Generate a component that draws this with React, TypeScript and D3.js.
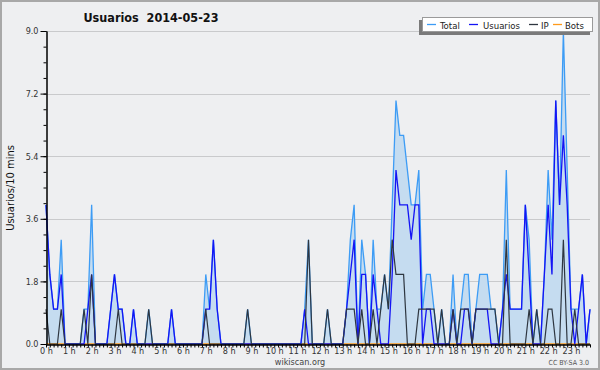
import { useEffect, useRef } from 'react';
import * as d3 from 'd3';

// one value per 10 minutes, 144 slots
const total = [
  4, 2, 1, 1, 3, 0, 0, 0, 0, 0, 1, 1, 4, 0, 0, 0, 0, 1, 2, 1, 1, 0, 0, 1,
  0, 0, 0, 1, 0, 0, 0, 0, 0, 1, 0, 0, 0, 0, 0, 0, 0, 0, 2, 1, 3, 1, 0, 0,
  0, 0, 0, 0, 0, 1, 0, 0, 0, 0, 0, 0, 0, 0, 0, 0, 0, 0, 0, 0, 1, 3, 0, 0,
  0, 0, 1, 0, 0, 0, 0, 1, 3, 4, 0, 3, 2, 0, 3, 1, 1, 2, 1, 4, 7, 6, 6, 5,
  4, 4, 5, 1, 2, 2, 1, 0, 1, 0, 0, 2, 0, 1, 2, 2, 0, 1, 2, 2, 2, 1, 1, 0,
  1, 5, 1, 1, 1, 1, 4, 3, 0, 1, 0, 2, 5, 3, 7, 4, 9, 5, 1, 1, 1, 2, 0, 1,
];
const usuarios = [
  4, 2, 1, 1, 2, 0, 0, 0, 0, 0, 0, 1, 2, 0, 0, 0, 0, 1, 2, 1, 1, 0, 0, 1,
  0, 0, 0, 0, 0, 0, 0, 0, 0, 1, 0, 0, 0, 0, 0, 0, 0, 0, 1, 1, 3, 1, 0, 0,
  0, 0, 0, 0, 0, 0, 0, 0, 0, 0, 0, 0, 0, 0, 0, 0, 0, 0, 0, 0, 1, 0, 0, 0,
  0, 0, 0, 0, 0, 0, 0, 1, 2, 3, 0, 2, 2, 0, 2, 1, 0, 0, 0, 2, 5, 4, 4, 4,
  3, 4, 4, 0, 1, 1, 0, 0, 0, 0, 0, 1, 0, 0, 1, 1, 0, 1, 1, 1, 1, 0, 0, 0,
  1, 2, 1, 1, 1, 1, 4, 2, 0, 0, 0, 2, 4, 2, 7, 4, 6, 4, 1, 0, 1, 2, 0, 1,
];
const ip = [
  1, 0, 0, 0, 1, 0, 0, 0, 0, 0, 1, 0, 2, 0, 0, 0, 0, 0, 0, 1, 0, 0, 0, 0,
  0, 0, 0, 1, 0, 0, 0, 0, 0, 0, 0, 0, 0, 0, 0, 0, 0, 0, 1, 0, 0, 0, 0, 0,
  0, 0, 0, 0, 0, 1, 0, 0, 0, 0, 0, 0, 0, 0, 0, 0, 0, 0, 0, 0, 0, 3, 0, 0,
  0, 0, 1, 0, 0, 0, 0, 1, 1, 1, 0, 1, 0, 0, 1, 0, 1, 2, 1, 3, 2, 2, 2, 0,
  0, 0, 1, 1, 1, 1, 1, 0, 1, 0, 0, 1, 0, 1, 1, 1, 0, 1, 1, 1, 1, 1, 1, 0,
  0, 3, 0, 0, 0, 0, 0, 1, 0, 1, 0, 0, 1, 1, 0, 0, 3, 0, 0, 1, 0, 0, 0, 0,
];
const bots = total.map(() => 0);

const yTicks = [0, 1.8, 3.6, 5.4, 7.2, 9.0];
const hourLabels = d3.range(24).map(h => `${h} h`);

const legendItems = [
  { name: 'Total', color: '#3d9cf5' },
  { name: 'Usuarios', color: '#1414f5' },
  { name: 'IP', color: '#2e3640' },
  { name: 'Bots', color: '#ff9a1a' },
];

const font = '"DejaVu Sans Condensed", "DejaVu Sans", sans-serif';

const App = () => {
  const svgRef = useRef<SVGSVGElement>(null);

  useEffect(() => {
    const w = 600;
    const h = 370;
    const svg = d3.select(svgRef.current);
    svg.selectAll('*').remove();
    svg.attr('width', w).attr('height', h);

    const left = 46, right = 590, top = 31, bottom = 344;
    const x = d3.scaleLinear().domain([0, total.length - 1]).range([left, right]);
    const y = d3.scaleLinear().domain([0, 9]).range([bottom, top]);

    // background + border
    svg.append('rect')
      .attr('x', 1).attr('y', 1).attr('width', w - 2).attr('height', h - 2)
      .attr('fill', '#eeeff1').attr('stroke', '#a8a8a8').attr('stroke-width', 2);

    // grid
    svg.append('g').selectAll('line')
      .data(yTicks.slice(1))
      .enter().append('line')
      .attr('x1', left).attr('x2', right)
      .attr('y1', d => Math.round(y(d)) + 0.5).attr('y2', d => Math.round(y(d)) + 0.5)
      .attr('stroke', '#c9cacc').attr('stroke-width', 1);

    // title
    svg.append('text')
      .attr('x', 151).attr('y', 22)
      .attr('text-anchor', 'middle')
      .style('font-family', font).style('font-weight', 'bold').style('font-size', '12.5px')
      .style('font-stretch', 'condensed')
      .style('white-space', 'pre')
      .attr('fill', '#111')
      .text('Usuarios  2014-05-23');

    // y label
    svg.append('text')
      .attr('transform', 'translate(14,188) rotate(-90)')
      .attr('text-anchor', 'middle')
      .style('font-family', font).style('font-size', '11px').style('font-stretch', 'condensed')
      .attr('fill', '#111')
      .text('Usuarios/10 mins');

    const idx = d3.range(total.length);

    // area under total
    svg.append('path')
      .datum(idx)
      .attr('fill', '#c5dcf0')
      .attr('d', d3.area<number>().x(i => x(i)).y0(y(0)).y1(i => y(total[i])));

    const line = (vals: number[]) => d3.line<number>().x(i => x(i)).y(i => y(vals[i]))(idx);

    svg.append('path').attr('d', line(bots)).attr('fill', 'none')
      .attr('stroke', legendItems[3].color).attr('stroke-width', 1.3);
    svg.append('path').attr('d', line(total)).attr('fill', 'none')
      .attr('stroke', legendItems[0].color).attr('stroke-width', 1.3);
    svg.append('path').attr('d', line(usuarios)).attr('fill', 'none')
      .attr('stroke', legendItems[1].color).attr('stroke-width', 1.3);
    svg.append('path').attr('d', line(ip)).attr('fill', 'none')
      .attr('stroke', legendItems[2].color).attr('stroke-width', 1.2);

    // y axis
    const yAxis = svg.append('g')
      .attr('transform', `translate(${left + 0.5},0)`)
      .call(d3.axisLeft(y).tickValues(yTicks).tickFormat(d3.format('.1f')).tickSize(6).tickSizeOuter(0));
    svg.append('g')
      .attr('transform', `translate(${left + 0.5},0)`)
      .call(d3.axisLeft(y).tickValues(d3.range(0, 9.01, 0.45)).tickFormat(() => '').tickSize(3).tickSizeOuter(0));
    yAxis.selectAll('text').style('font-family', font).style('font-size', '9px').style('font-stretch', 'condensed')
      .attr('fill', '#333').attr('dx', '1px');

    // x axis
    const xAxis = svg.append('g')
      .attr('transform', `translate(0,${bottom + 0.5})`)
      .call(d3.axisBottom(x).tickValues(idx)
        .tickFormat(i => (+i % 6 === 0 ? hourLabels[+i / 6] : ''))
        .tickSize(3).tickSizeOuter(0));
    xAxis.select('.domain').attr('stroke-width', 1.5);
    xAxis.selectAll('text').style('font-family', font).style('font-size', '9px').style('font-stretch', 'condensed')
      .attr('fill', '#333').attr('y', 3).attr('dy', '0.71em');

    // footer
    svg.append('text')
      .attr('x', 300).attr('y', 365).attr('text-anchor', 'middle')
      .style('font-family', font).style('font-size', '9px').style('font-stretch', 'condensed').attr('fill', '#444')
      .text('wikiscan.org');
    svg.append('text')
      .attr('x', 589).attr('y', 365).attr('text-anchor', 'end')
      .style('font-family', font).style('font-size', '7px').style('font-stretch', 'condensed').attr('fill', '#555')
      .text('CC BY-SA 3.0');

    // legend
    const lg = svg.append('g');
    lg.append('rect').attr('x', 419).attr('y', 20).attr('width', 171).attr('height', 15).attr('fill', '#7a7a7a');
    lg.append('rect').attr('x', 422.5).attr('y', 17.5).attr('width', 170).attr('height', 14)
      .attr('fill', '#ffffff').attr('stroke', '#9a9a9a').attr('stroke-width', 1);
    const lineX = [427, 469, 529, 553];
    const textX = [440, 483, 541, 565];
    legendItems.forEach((it, k) => {
      lg.append('line').attr('x1', lineX[k]).attr('x2', lineX[k] + 9).attr('y1', 24.5).attr('y2', 24.5)
        .attr('stroke', it.color).attr('stroke-width', 1.3);
      lg.append('text').attr('x', textX[k]).attr('y', 28.5)
        .style('font-family', font).style('font-size', '9.5px').style('font-stretch', 'condensed').attr('fill', '#222')
        .text(it.name);
    });
  }, []);

  return (
    <svg ref={svgRef} style={{ position: 'absolute', left: 0, top: 0 }}></svg>
  );
};

export default App;
